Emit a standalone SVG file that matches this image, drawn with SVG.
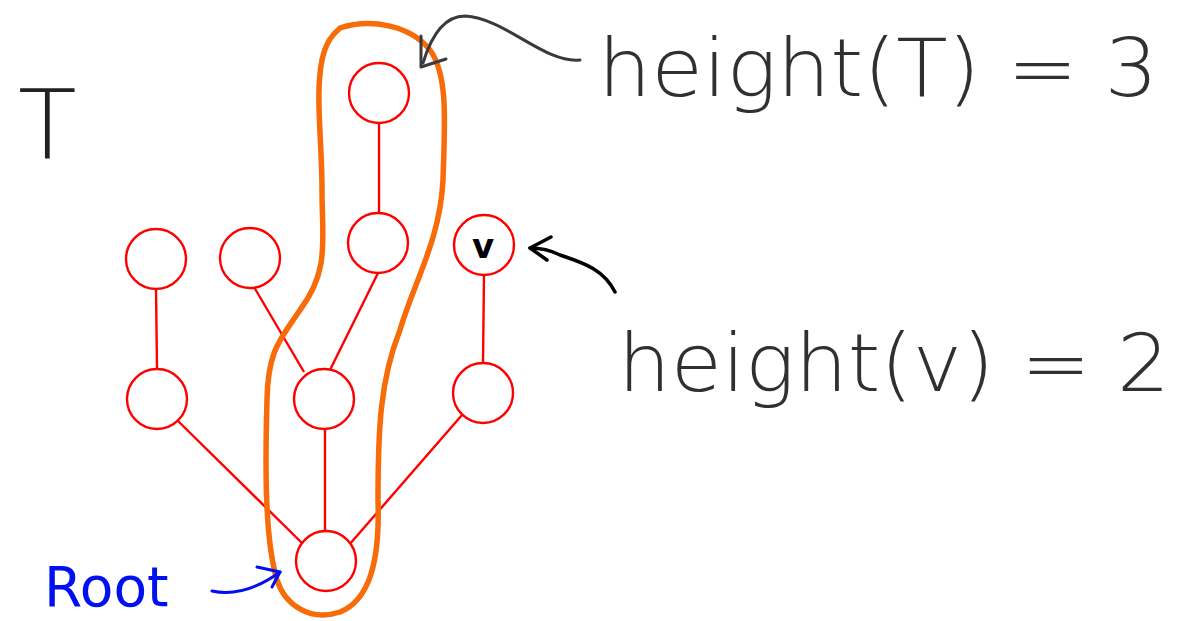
<svg xmlns="http://www.w3.org/2000/svg" width="1184" height="621" viewBox="0 0 1184 621">
  <style>
    .node circle { fill: #fff; stroke: #f00; stroke-width: 2.4; }
    .edge { stroke: #f00; stroke-width: 2.4; fill: none; }
    .hand { font-family: "DejaVu Sans", "Liberation Sans", sans-serif; font-weight: 300; }
    .note { stroke-linecap: round; stroke-linejoin: round; fill: none; }
  </style>
  <rect width="1184" height="621" fill="#fff"/>

  <!-- tree edges -->
  <g id="connectors">
    <line class="edge" x1="379" y1="123" x2="379" y2="213"/>
    <line class="edge" x1="156" y1="289" x2="157" y2="369"/>
    <line class="edge" x1="254" y1="287" x2="304" y2="372"/>
    <line class="edge" x1="378" y1="273" x2="330" y2="370"/>
    <line class="edge" x1="484" y1="275" x2="483" y2="363"/>
    <line class="edge" x1="178" y1="421" x2="302" y2="543"/>
    <line class="edge" x1="325" y1="429" x2="325" y2="531"/>
    <line class="edge" x1="462" y1="415" x2="349" y2="545"/>
  </g>

  <!-- tree nodes -->
  <g id="n-top" class="node"><circle cx="379" cy="93" r="30"/></g>
  <g id="n-a" class="node"><circle cx="156" cy="259" r="30"/></g>
  <g id="n-b" class="node"><circle cx="250" cy="258" r="30"/></g>
  <g id="n-c" class="node"><circle cx="378" cy="243" r="30"/></g>
  <g id="n-v" class="node">
    <circle cx="484" cy="245" r="30"/>
    <text x="483" y="258" text-anchor="middle" font-family="DejaVu Sans, sans-serif" font-weight="bold" font-size="34" fill="#000">v</text>
  </g>
  <g id="n-d" class="node"><circle cx="157" cy="399" r="30"/></g>
  <g id="n-e" class="node"><circle cx="324" cy="399" r="30"/></g>
  <g id="n-f" class="node"><circle cx="483" cy="393" r="30"/></g>
  <g id="n-root" class="node"><circle cx="326" cy="561" r="30"/></g>

  <!-- longest path outline -->
  <path id="outline" d="M 340 28 C 370 18 410 25 430 50 C 448 75 445 120 443 180 C 440 240 415 280 400 330 C 380 380 378 430 378 500 C 380 560 370 600 340 612 C 310 622 285 605 277 580 C 265 540 265 470 267 400 C 268 350 280 340 300 310 C 330 270 322 240 322 190 C 322 140 315 95 322 60 C 326 42 332 35 340 28 Z" fill="none" stroke="#f76b08" stroke-width="5.5"/>

  <!-- labels -->
  <text class="hand" x="18" y="158" font-size="96" fill="#222">T</text>
  <text class="hand" x="598" y="96" font-size="80" fill="#332f30" textLength="560" lengthAdjust="spacingAndGlyphs">height(T) = 3</text>
  <text class="hand" x="618" y="391" font-size="80" fill="#332f30" textLength="552" lengthAdjust="spacingAndGlyphs">height(v) = 2</text>
  <text x="44" y="606" font-family="DejaVu Sans, sans-serif" font-size="55" fill="#0010ee">Root</text>

  <!-- annotation arrows -->
  <g id="arrow-T" class="note" stroke="#3a3a3a" stroke-width="3">
    <path d="M 580 60 C 545 64 505 18 465 16 C 442 16 430 40 423 63"/>
    <path d="M 421 36 L 421 67 L 446 59"/>
  </g>
  <g id="arrow-v" class="note" stroke="#000" stroke-width="3.5">
    <path d="M 615 292 C 603 268 580 262 560 255 C 550 250 540 248 530 248"/>
    <path d="M 551 237 L 530 248 L 547 260"/>
  </g>
  <g id="arrow-root" class="note" stroke="#0010ee" stroke-width="3">
    <path d="M 212 591 C 235 596 258 588 280 572"/>
    <path d="M 257 567 L 280 572 L 272 587"/>
  </g>
</svg>
